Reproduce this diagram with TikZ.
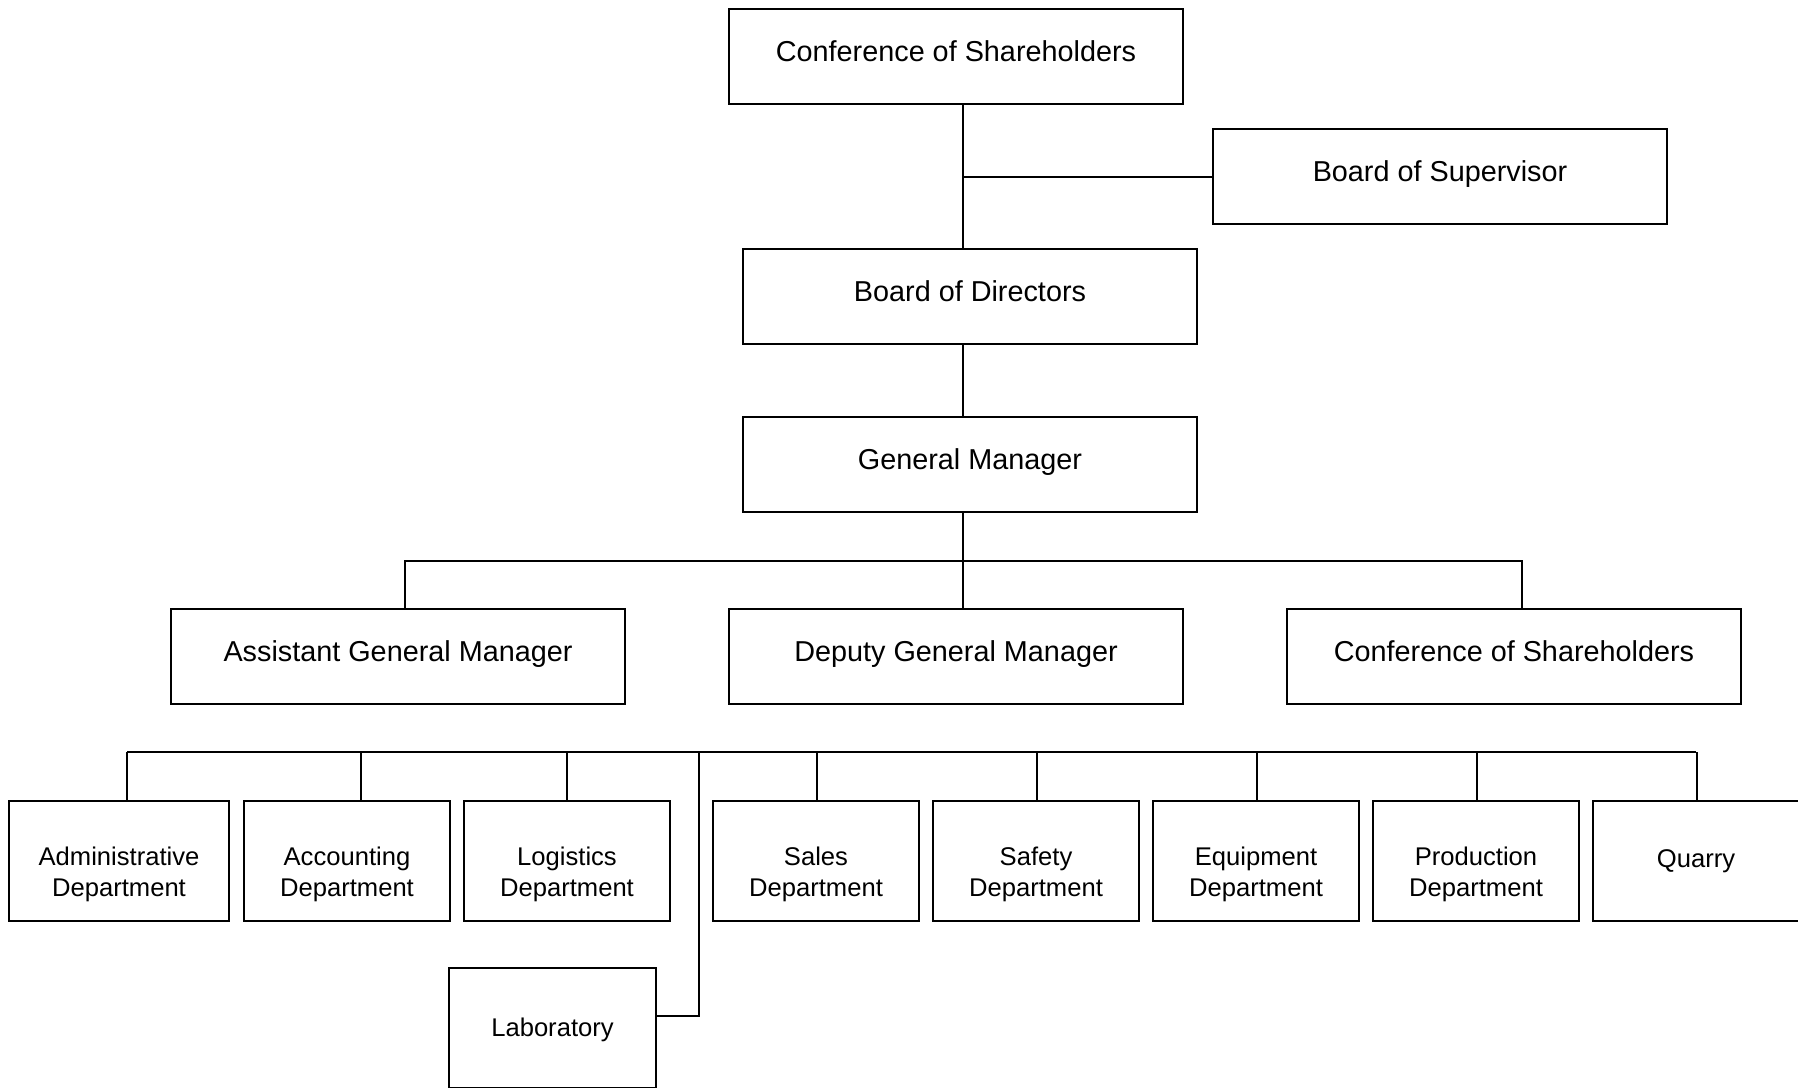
\documentclass[tikz,border=0pt]{standalone}
\usepackage{fontspec}
\setmainfont{Liberation Sans}
\usepackage{tikz}
\usetikzlibrary{positioning,calc}
\tikzset{
  orgbox/.style={
    draw=black, line width=1pt, align=center, inner sep=0pt,
    font=\fontsize{14.4}{17}\selectfont,
    minimum width=227pt, minimum height=47.5pt,
    text height=0.75em, text depth=0.3em
  },
  dept/.style={
    draw=black, line width=1pt, inner sep=0pt,
    font=\fontsize{12.8}{15.5}\selectfont,
    minimum width=103pt, minimum height=60pt
  },
  deptone/.style={dept, text height=0.8em, text depth=0.2em},
  link/.style={draw=black, line width=1pt},
  every picture/.append style={line join=miter}
}
\newcommand{\deptlines}[2]{\raisebox{-7pt}[\height][\depth]{\begin{tabular}{@{}c@{}}#1\\#2\end{tabular}}}

\begin{document}
\begin{tikzpicture}[x=0.5pt, y=-0.5pt]
  \path[use as bounding box] (0,0) rectangle (1798,1087);
  \clip (0,0) rectangle (1798,1087);
  % upper levels
  \node[orgbox] (cos) at (956,56.5) {Conference of Shareholders};
  \node[orgbox] (bos) at (1440,176.5) {Board of Supervisor};
  \node[orgbox] (bod) at (970,296.5) {Board of Directors};
  \node[orgbox] (gm) at (970,464.5) {General Manager};
  \node[orgbox] (agm) at (398,656.5) {Assistant General Manager};
  \node[orgbox] (dgm) at (956,656.5) {Deputy General Manager};
  \node[orgbox] (cos2) at (1514,656.5) {Conference of Shareholders};
  % departments
  \node[dept, minimum width=110pt] (adm) at (119,861) {\deptlines{Administrative}{Department}};
  \node[dept] (acc) at (347,861) {\deptlines{Accounting}{Department}};
  \node[dept] (log) at (567,861) {\deptlines{Logistics}{Department}};
  \node[dept] (sal) at (816,861) {\deptlines{Sales}{Department}};
  \node[dept] (saf) at (1036,861) {\deptlines{Safety}{Department}};
  \node[dept] (equ) at (1256,861) {\deptlines{Equipment}{Department}};
  \node[dept] (pro) at (1476,861) {\deptlines{Production}{Department}};
  \node[deptone] (qua) at (1696,861) {Quarry};
  \node[deptone, minimum width=103.5pt, text height=0.9em, text depth=0.1em] (lab) at (552.5,1028) {Laboratory};
  % connectors
  \coordinate (axis) at (963,0);
  \coordinate (drop) at (699,0);
  \coordinate (bus1) at (0,561);
  \coordinate (bus2) at (0,752);
  \draw[link] (cos.south -| axis) -- (bod.north -| axis);
  \draw[link] (bos.west) -- (bos.west -| axis);
  \draw[link] (bod.south -| axis) -- (gm.north -| axis);
  \draw[link] (gm.south -| axis) -- (dgm.north -| axis);
  \draw[link] ([xshift=3.5pt]agm.north) |- (bus1 -| axis) -| ([xshift=4pt]cos2.north);
  \draw[link] ([xshift=4pt]adm.north |- bus2) -- (qua.north |- bus2);
  \foreach \d/\s in {adm/4,acc/7,log/0,sal/0.5,saf/0.5,equ/0.5,pro/0.5,qua/0.5}
    \draw[link] ([xshift=\s pt]\d.north) -- ([xshift=\s pt]\d.north |- bus2);
  \draw[link] (drop |- bus2) |- ([yshift=6pt]lab.east);
\end{tikzpicture}
\end{document}
